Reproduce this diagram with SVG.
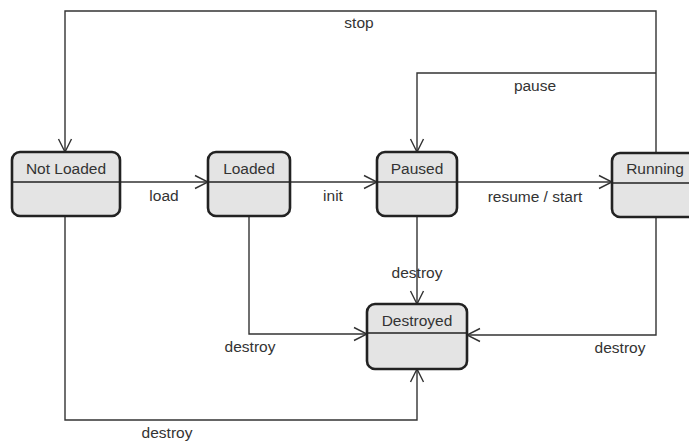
<svg xmlns="http://www.w3.org/2000/svg" width="689" height="441" viewBox="0 0 689 441">
<defs>
<style>
.st rect{fill:#e4e4e4;stroke:#222;stroke-width:2.6}
.st line{stroke:#222;stroke-width:1.5}
text{font-family:"Liberation Sans",Arial,sans-serif;font-size:15.5px;fill:#333;text-anchor:middle}
.c path{fill:none;stroke:#333;stroke-width:1.4}
</style>
<marker id="arr" viewBox="-14 -8 15 16" refX="0" refY="0" markerWidth="15" markerHeight="16" orient="auto" markerUnits="userSpaceOnUse">
<path d="M-13,-6.5 L0,0 L-13,6.5" fill="none" stroke="#333" stroke-width="1.4"/>
</marker>
</defs>
<rect width="689" height="441" fill="#fff"/>
<g class="c" id="connectors">
<path d="M656,153 V11 H65 V152" marker-end="url(#arr)"/>
<path d="M656,73 H417 V152" marker-end="url(#arr)"/>
<path d="M120,182 H208" marker-end="url(#arr)"/>
<path d="M290,182 H377" marker-end="url(#arr)"/>
<path d="M457,182 H612" marker-end="url(#arr)"/>
<path d="M417,216 V304" marker-end="url(#arr)"/>
<path d="M249,216 V334 H367" marker-end="url(#arr)"/>
<path d="M656,217 V335 H467" marker-end="url(#arr)"/>
<path d="M65,216 V420 H417 V369" marker-end="url(#arr)"/>
</g>
<g id="labels">
<text x="359" y="28">stop</text>
<text x="535" y="91">pause</text>
<text x="164" y="201">load</text>
<text x="333" y="201">init</text>
<text x="535" y="202">resume / start</text>
<text x="417" y="278">destroy</text>
<text x="250" y="352">destroy</text>
<text x="620" y="353">destroy</text>
<text x="167" y="438">destroy</text>
</g>
<g class="st" id="notloaded">
<rect x="12" y="152" width="108" height="64" rx="8"/>
<line x1="12" y1="182" x2="120" y2="182"/>
<text x="66" y="174">Not Loaded</text>
</g>
<g class="st" id="loaded">
<rect x="208" y="152" width="82" height="64" rx="8"/>
<line x1="208" y1="182" x2="290" y2="182"/>
<text x="249" y="174">Loaded</text>
</g>
<g class="st" id="paused">
<rect x="377" y="152" width="80" height="64" rx="8"/>
<line x1="377" y1="182" x2="457" y2="182"/>
<text x="417" y="174">Paused</text>
</g>
<g class="st" id="running">
<rect x="612" y="153" width="100" height="64" rx="8"/>
<line x1="612" y1="183" x2="712" y2="183"/>
<text x="655" y="174">Running</text>
</g>
<g class="st" id="destroyed">
<rect x="367" y="304" width="100" height="65" rx="8"/>
<line x1="367" y1="333" x2="467" y2="333"/>
<text x="417" y="326">Destroyed</text>
</g>
</svg>
